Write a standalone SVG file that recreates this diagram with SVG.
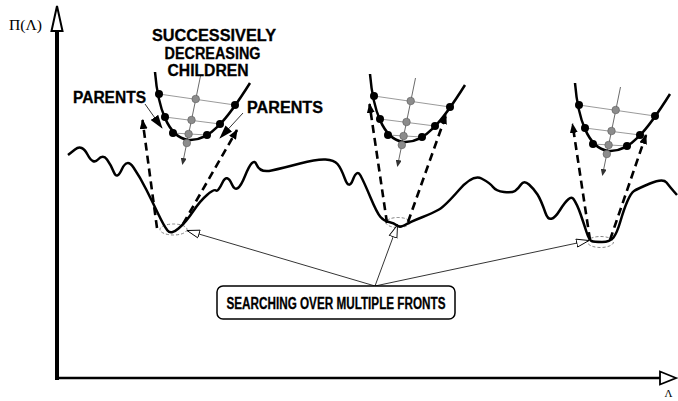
<svg xmlns="http://www.w3.org/2000/svg" xmlns:xlink="http://www.w3.org/1999/xlink" width="678" height="401" viewBox="0 0 678 401">
<style>
.lbl{font-family:"Liberation Sans",Arial,sans-serif;font-weight:bold;font-size:16px;fill:#000;stroke:#000;stroke-width:0.3}
.ser{font-family:"Liberation Serif","Times New Roman",serif;fill:#000}
.dash{fill:none;stroke:#000;stroke-width:2.6;stroke-dasharray:8,5}
.thin{fill:none;stroke:#000;stroke-width:0.8}
.ell{fill:none;stroke:#777;stroke-width:0.9;stroke-dasharray:3,2}
.par{fill:none;stroke:#000;stroke-width:2.5}
.hl{stroke:#808080;stroke-width:0.8}
.bd{fill:#000}
.gd{fill:#8c8c8c;stroke:#5a5a5a;stroke-width:0.6}
</style>
<defs>
<marker id="fh" markerUnits="userSpaceOnUse" markerWidth="10" markerHeight="8" refX="9" refY="4" orient="auto"><path d="M0,0 L10,4 L0,8 z" fill="#000"/></marker>
<marker id="ph" markerUnits="userSpaceOnUse" markerWidth="14" markerHeight="10" refX="13" refY="5" orient="auto"><path d="M0,0.5 L14,5 L0,9.5 z" fill="#000"/></marker>
<marker id="gh" markerUnits="userSpaceOnUse" markerWidth="7" markerHeight="6" refX="6" refY="3" orient="auto"><path d="M0,0 L7,3 L0,6 z" fill="#333"/></marker>
<marker id="oh" markerUnits="userSpaceOnUse" markerWidth="14" markerHeight="10" refX="13" refY="5" orient="auto"><path d="M0.5,1 L13,5 L0.5,9 z" fill="#fff" stroke="#000" stroke-width="0.9"/></marker>
<g id="children">
<line class="hl" x1="-29" y1="-46" x2="47" y2="-35"/>
<line class="hl" x1="-23" y1="-23" x2="32" y2="-16"/>
<line class="hl" x1="-15" y1="-7" x2="19" y2="-5"/>
<line x1="12.5" y1="-64" x2="-5.5" y2="24" stroke="#444" stroke-width="0.8" marker-end="url(#gh)"/>
<path class="par" d="M-33,-68 C-30,-32 -20,-3 0,0 C22,2 40,-22 62,-57"/>
<circle class="bd" cx="-29" cy="-46" r="4"/>
<circle class="bd" cx="-23" cy="-23" r="4"/>
<circle class="bd" cx="-15" cy="-7" r="4"/>
<circle class="bd" cx="19" cy="-5" r="4"/>
<circle class="bd" cx="32" cy="-16" r="4"/>
<circle class="bd" cx="47" cy="-35" r="4"/>
<circle class="gd" cx="7.7" cy="-41" r="3.8"/>
<circle class="gd" cx="3.5" cy="-20" r="3.8"/>
<circle class="gd" cx="0.6" cy="-6" r="3.8"/>
<circle class="gd" cx="-1.2" cy="3" r="3.8"/>
</g>
</defs>

<g id="axes">
<line x1="57" y1="30" x2="57" y2="380" stroke="#000" stroke-width="4"/>
<polygon points="57,6 51.5,31 62.5,31" fill="#fff" stroke="#000" stroke-width="2"/>
<line x1="55" y1="378" x2="661" y2="378" stroke="#000" stroke-width="2.5"/>
<polygon points="676,378 660,371.5 660,384.5" fill="#fff" stroke="#000" stroke-width="1.8"/>
<text class="ser" x="9" y="30" font-size="14" textLength="33" lengthAdjust="spacingAndGlyphs">Π(Λ)</text>
<text class="ser" x="664.5" y="397" font-size="11">Λ</text>
</g>

<g id="ellipses">
<ellipse class="ell" cx="173.5" cy="229.5" rx="13.5" ry="5.5"/>
<ellipse class="ell" cx="398" cy="222.5" rx="12" ry="5"/>
<ellipse class="ell" cx="600.5" cy="242" rx="13" ry="5.5"/>
</g>

<g id="landscape">
<path fill="none" stroke="#000" stroke-width="2.5" stroke-linejoin="round" d="M68,155 L75,149.5 Q82,144 87.5,154.5 Q93,165 98,159.5 Q103,154 107,159.5 Q111,165 114,172.5 Q117,180 122,169 Q127,158 133.5,167.5 Q140,177 146.5,190 Q153,203 158.5,214.5 Q164,226 167.5,230.5 Q171,235 178.5,228.5 Q186,222 193,211.5 Q200,201 207,195 Q214,189 216,190.5 Q218,192 222.5,182.5 Q227,173 232,184.5 Q237,196 245,176 Q253,156 256.5,164.5 Q260,173 271.5,170.5 Q283,168 300,163.5 Q317,159 325.5,159.5 Q334,160 337.5,164 Q341,168 345,179 Q349,190 353,179.5 Q357,169 360.5,175.5 Q364,182 370.5,197.5 Q377,213 380.5,217 Q384,221 389,222 Q394,223 397,225.5 Q400,228 405,225 Q410,222 421.5,217.5 Q433,213 439,209.5 Q445,206 459,190 Q473,174 481.5,178.5 Q490,183 493,187 Q496,191 504,192 Q512,193 515,191 Q518,189 521,184.5 Q524,180 529,184.5 Q534,189 537.5,194.5 Q541,200 545.5,213 Q550,226 560,210 Q570,194 573.5,199 Q577,204 580.5,214 Q584,224 586.5,232 Q589,240 591.5,241 Q594,242 602,242 Q610,242 613.5,237.5 Q617,233 620.5,221 Q624,209 627.5,201 Q631,193 634,191 Q637,189 650,183.5 Q663,178 666.5,182.5 Q670,187 673.5,191 L677,195"/>
</g>

<g id="front1">
<use xlink:href="#children" href="#children" transform="translate(188,140)"/>
<line class="dash" x1="157" y1="228" x2="142.5" y2="120" marker-end="url(#fh)"/>
<line class="dash" x1="183" y1="224" x2="237" y2="130" marker-end="url(#fh)"/>
</g>
<g id="front2">
<use xlink:href="#children" href="#children" transform="translate(403,142)"/>
<line class="dash" x1="387" y1="223" x2="369.5" y2="104" marker-end="url(#fh)"/>
<line class="dash" x1="408" y1="222" x2="446" y2="115" marker-end="url(#fh)"/>
</g>
<g id="front3">
<use xlink:href="#children" href="#children" transform="translate(608,151)"/>
<line class="dash" x1="590" y1="240" x2="572.5" y2="124" marker-end="url(#fh)"/>
<line class="dash" x1="610" y1="240" x2="646" y2="135" marker-end="url(#fh)"/>
</g>

<g id="title">
<text class="lbl" x="214" y="41" text-anchor="middle" textLength="124" lengthAdjust="spacingAndGlyphs">SUCCESSIVELY</text>
<text class="lbl" x="212.5" y="58.5" text-anchor="middle" textLength="96" lengthAdjust="spacingAndGlyphs">DECREASING</text>
<text class="lbl" x="208" y="76" text-anchor="middle" textLength="81" lengthAdjust="spacingAndGlyphs">CHILDREN</text>
</g>

<g id="parents-left">
<text class="lbl" x="73" y="103" font-size="15" textLength="73" lengthAdjust="spacingAndGlyphs">PARENTS</text>
<line class="thin" x1="145" y1="104" x2="162" y2="128" stroke-width="1" marker-end="url(#ph)"/>
</g>
<g id="parents-right">
<text class="lbl" x="247" y="113" font-size="15" textLength="76" lengthAdjust="spacingAndGlyphs">PARENTS</text>
<line class="thin" x1="243" y1="113" x2="220" y2="138" stroke-width="1" marker-end="url(#ph)"/>
</g>

<g id="connectors">
<line class="thin" x1="375" y1="286" x2="187" y2="230.5" marker-end="url(#oh)"/>
<line class="thin" x1="375" y1="286" x2="397.5" y2="225" marker-end="url(#oh)"/>
<line class="thin" x1="375" y1="286" x2="589" y2="240.5" marker-end="url(#oh)"/>
</g>

<g id="search-box">
<rect x="217" y="286" width="238" height="33" rx="6" fill="#fff" stroke="#000" stroke-width="1.5"/>
<text class="lbl" x="226.5" y="308.5" font-size="15" textLength="219" lengthAdjust="spacingAndGlyphs">SEARCHING OVER MULTIPLE FRONTS</text>
</g>
</svg>
